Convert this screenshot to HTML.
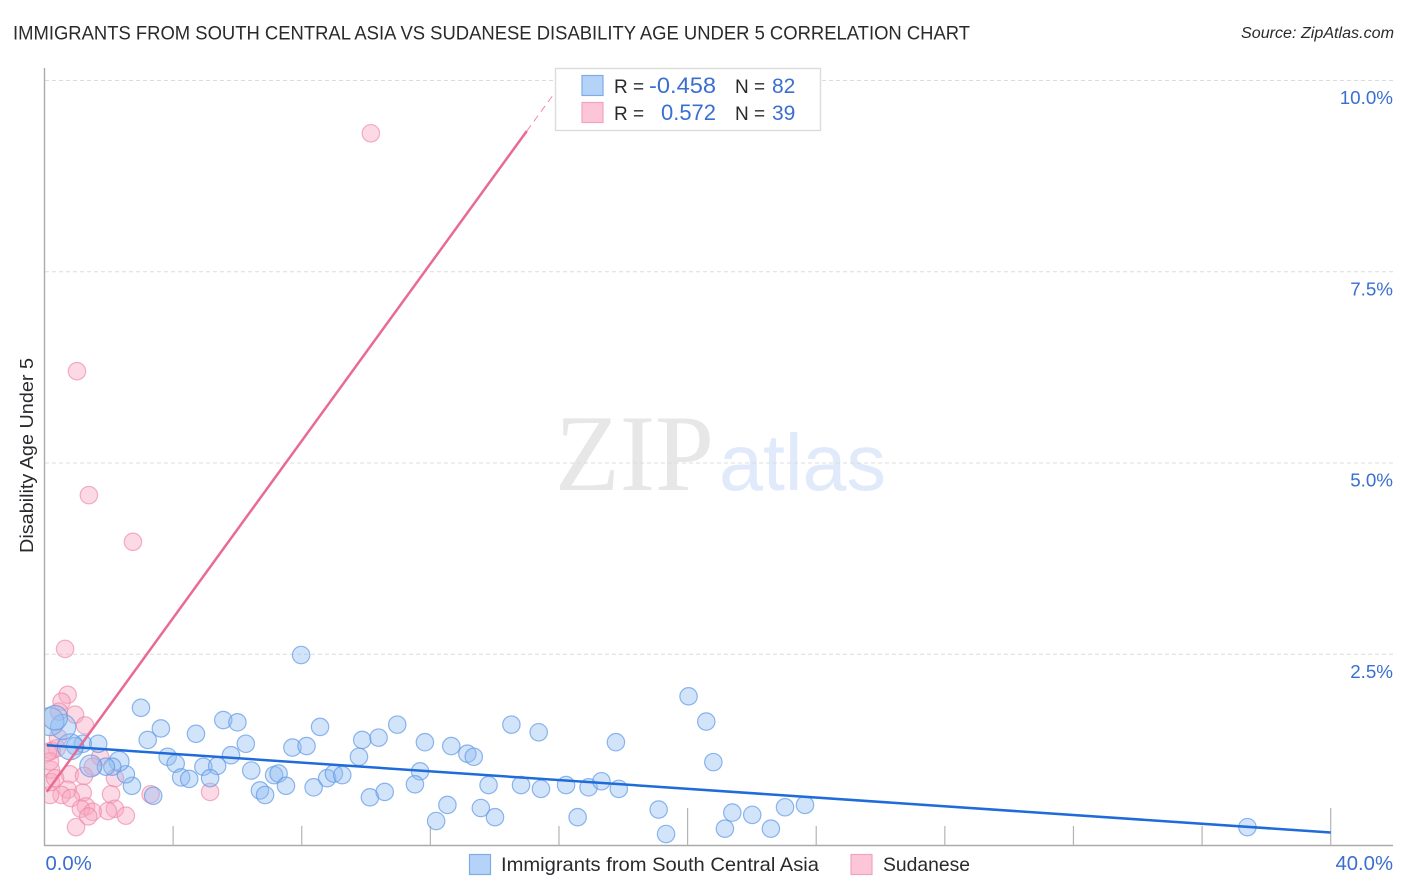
<!DOCTYPE html>
<html lang="en">
<head>
<meta charset="utf-8">
<title>Immigrants from South Central Asia vs Sudanese Disability Age Under 5 Correlation Chart</title>
<style>
html,body{margin:0;padding:0;background:#fff;width:1406px;height:892px;overflow:hidden}
svg{display:block}
text{font-family:"Liberation Sans",Arial,sans-serif}
.num{fill:#3a6fd0}
.ink{fill:#2a2a2e}
</style>
</head>
<body>
<svg id="chart" xmlns="http://www.w3.org/2000/svg" width="1406" height="892" viewBox="0 0 1406 892">
  <defs>
    <clipPath id="plot-clip"><rect x="45" y="60" width="1348" height="785"/></clipPath>
  </defs>
  <text class="ink" x="13" y="39.5" font-size="19.5" textLength="957" lengthAdjust="spacingAndGlyphs">IMMIGRANTS FROM SOUTH CENTRAL ASIA VS SUDANESE DISABILITY AGE UNDER 5 CORRELATION CHART</text>
  <text class="ink" x="1241" y="38" font-size="15.5" font-style="italic" textLength="153" lengthAdjust="spacingAndGlyphs">Source: ZipAtlas.com</text>

  <g>
    <text x="555" y="490" font-size="109" textLength="159" lengthAdjust="spacingAndGlyphs" style="font-family:'Liberation Serif',serif" fill="#e7e7e7">ZIP</text>
    <text x="719" y="490" font-size="80" textLength="167" lengthAdjust="spacingAndGlyphs" fill="#e0eafa">atlas</text>
  </g>

  <g id="grid"></g>
  <g id="axes"></g>
  <g id="points" clip-path="url(#plot-clip)"></g>
  <g id="trends"></g>

  <text class="ink" transform="translate(33,553) rotate(-90)" font-size="18" textLength="195" lengthAdjust="spacingAndGlyphs">Disability Age Under 5</text>

  <g>
    <rect x="555.5" y="68.5" width="265" height="62" fill="#fff" stroke="#dcdcdc" stroke-width="1.4"/>
    <rect x="582" y="75.5" width="21" height="20" fill="#b5d2f8" stroke="#7eace9" stroke-width="1.2"/>
    <rect x="582" y="102.5" width="21" height="20" fill="#fcc6d8" stroke="#f2a3bd" stroke-width="1.2"/>
    <text class="ink" x="614" y="93" font-size="19">R =</text>
    <text class="num" x="649" y="93" font-size="22" textLength="67" lengthAdjust="spacingAndGlyphs">-0.458</text>
    <text class="ink" x="735" y="93" font-size="19">N =</text>
    <text class="num" x="772" y="93" font-size="21">82</text>
    <text class="ink" x="614" y="120" font-size="19">R =</text>
    <text class="num" x="661" y="120" font-size="22" textLength="55" lengthAdjust="spacingAndGlyphs">0.572</text>
    <text class="ink" x="735" y="120" font-size="19">N =</text>
    <text class="num" x="772" y="120" font-size="21">39</text>
  </g>

  <g>
    <rect x="469.5" y="854.5" width="21" height="20" fill="#b5d2f8" stroke="#7eace9" stroke-width="1.2"/>
    <text class="ink" x="501" y="871" font-size="19.5" textLength="318" lengthAdjust="spacingAndGlyphs">Immigrants from South Central Asia</text>
    <rect x="851" y="854.5" width="21" height="20" fill="#fcc6d8" stroke="#f2a3bd" stroke-width="1.2"/>
    <text class="ink" x="883" y="871" font-size="19.5" textLength="87" lengthAdjust="spacingAndGlyphs">Sudanese</text>
  </g>
</svg>
<script>
const blueX = [7.98,3.00,3.62,3.21,4.71,5.56,6.00,6.26,8.57,7.71,8.15,5.80,3.83,4.08,4.94,5.37,4.25,4.50,5.15,6.43,7.14,7.28,7.51,6.70,6.86,8.37,8.79,9.00,9.26,3.38,2.72,2.53,2.32,2.11,1.91,1.44,1.67,1.19,0.95,0.80,0.58,0.17,0.33,10.97,9.88,10.39,9.78,11.83,12.65,13.15,13.35,14.52,15.37,17.77,20.03,20.58,20.80,11.68,11.52,13.81,14.82,15.44,16.22,16.92,17.32,17.86,10.12,10.58,12.53,12.18,13.57,14.01,16.58,19.10,19.33,21.39,22.01,21.16,22.59,23.03,23.65,37.41];
const blueY = [2.49,1.80,1.53,1.38,1.46,1.64,1.61,1.33,1.55,1.28,1.30,1.18,1.16,1.07,1.03,1.04,0.89,0.87,0.88,0.98,0.92,0.94,0.78,0.72,0.66,0.76,0.88,0.94,0.92,0.65,0.78,0.93,1.10,1.03,1.03,1.04,1.33,1.33,1.30,1.29,1.55,1.62,1.67,1.58,1.38,1.41,1.16,1.35,1.30,1.20,1.16,1.58,1.48,1.35,1.95,1.62,1.09,0.97,0.80,0.79,0.79,0.74,0.79,0.76,0.84,0.74,0.63,0.70,0.53,0.32,0.49,0.37,0.37,0.47,0.15,0.43,0.40,0.22,0.22,0.50,0.53,0.24];
const blueWeight = [1,1,1,1,1,1,1,1,1,1,1,1,1,1,1,1,1,1,1,1,1,1,1,1,1,1,1,1,1,1,1,1,1.3,1,1,1.6,1,1,1,2.2,2.1,2.6,2];
const pinkX = [10.15,1.01,1.38,2.75,0.64,0.72,0.53,0.45,0.95,1.26,0.38,0.22,1.73,1.50,0.79,0.20,0.17,1.23,2.19,1.19,2.07,0.72,0.53,0.82,0.17,1.29,1.13,2.19,1.97,2.53,1.50,1.36,0.98,3.30,5.15,0.20,0.42,0.33,0.11];
const pinkY = [9.31,6.20,4.58,3.97,2.57,1.97,1.88,1.75,1.71,1.57,1.27,1.24,1.16,1.03,0.93,0.99,1.10,0.91,0.88,0.69,0.67,0.73,0.66,0.62,0.66,0.51,0.48,0.48,0.45,0.39,0.44,0.38,0.24,0.67,0.70,0.83,1.41,0.88,1.22];
const blueTrendX = [0.07,40];
const blueTrendY = [1.31,0.17];
const pinkTrendX = [0.07,15];
const pinkTrendY = [0.70,9.34];
const pinkDashX = [15,15.85];
const pinkDashY = [9.34,9.83];
const yTicks = [2.5,5,7.5,10];
const yTickLabels = ['2.5%','5.0%','7.5%','10.0%'];
const xTicks = [4,8,12,16,20,24,28,32,36,40];
const xTickMajor = [20,40];
const xEndTicks = [0,40];
const xEndLabels = ['0.0%','40.0%'];

const NS = 'http://www.w3.org/2000/svg';
const xPos = v => 44.5 + v * 32.155;
const yPos = v => 845.5 - v * 76.5;
const gridG = document.getElementById('grid');
const axesG = document.getElementById('axes');
const pointsG = document.getElementById('points');
const trendsG = document.getElementById('trends');

function make(tag, attrs, parent) {
  const el = document.createElementNS(NS, tag);
  for (const k in attrs) el.setAttribute(k, attrs[k]);
  parent.appendChild(el);
  return el;
}

yTicks.forEach((t, i) => {
  const line = make('line', {x1: 45, x2: 1393, y1: yPos(t), y2: yPos(t), stroke: '#dcdcdc', 'stroke-width': 1, 'stroke-dasharray': '4 3'}, gridG);
  
  
  const label = make('text', {x: 1393, y: yPos(t) + 23.5, 'font-size': 18.8, 'text-anchor': 'end', class: 'num'}, axesG);
  label.textContent = yTickLabels[i];
  
  
});

const yAxis = make('line', {x1: 44.5, x2: 44.5, y1: 68, y2: 846, stroke: '#aaaaaa', 'stroke-width': 1.4}, axesG);


const xAxis = make('line', {x1: 44, x2: 1393, y1: 845.5, y2: 845.5, stroke: '#aaaaaa', 'stroke-width': 1.4}, axesG);



xTicks.forEach(t => {
  const top = xTickMajor.includes(t) ? 808 : 826;
  const tick = make('line', {x1: xPos(t), x2: xPos(t), y1: top, y2: 845.5, stroke: '#b4b4b4', 'stroke-width': 1.2}, axesG);
  
  
});

xEndTicks.forEach((t, i) => {
  const label = make('text', i === 0
    ? {x: xPos(t) + 1, y: 870, 'font-size': 20.3, class: 'num'}
    : {x: 1393, y: 870, 'font-size': 20.3, 'text-anchor': 'end', class: 'num'}, axesG);
  label.textContent = xEndLabels[i];
  
  
});

pinkX.forEach((x, i) => {
  const c = make('circle', {cx: xPos(x), cy: yPos(pinkY[i]), r: 8.7, fill: '#f9a8c2', 'fill-opacity': 0.42, stroke: '#ee86a6', 'stroke-opacity': 0.65, 'stroke-width': 1.2}, pointsG);
  
  
});

blueX.forEach((x, i) => {
  const w = blueWeight[i] || 1;
  const c = make('circle', {cx: xPos(x), cy: yPos(blueY[i]), r: 8.7 * Math.sqrt(w), fill: '#8fbcf2', 'fill-opacity': 0.4, stroke: '#5f98e4', 'stroke-opacity': 0.7, 'stroke-width': 1.2}, pointsG);
  
  
});

const pinkLine = make('line', {x1: xPos(pinkTrendX[0]), y1: yPos(pinkTrendY[0]), x2: xPos(pinkTrendX[1]), y2: yPos(pinkTrendY[1]), stroke: '#e96a94', 'stroke-width': 2.5}, trendsG);


const pinkDash = make('line', {x1: xPos(pinkDashX[0]), y1: yPos(pinkDashY[0]), x2: xPos(pinkDashX[1]), y2: yPos(pinkDashY[1]), stroke: '#ee8aaa', 'stroke-width': 1, 'stroke-dasharray': '7 5'}, trendsG);


const blueLine = make('line', {x1: xPos(blueTrendX[0]), y1: yPos(blueTrendY[0]), x2: xPos(blueTrendX[1]), y2: yPos(blueTrendY[1]), stroke: '#1f6bd9', 'stroke-width': 2.5}, trendsG);


</script>
</body>
</html>
